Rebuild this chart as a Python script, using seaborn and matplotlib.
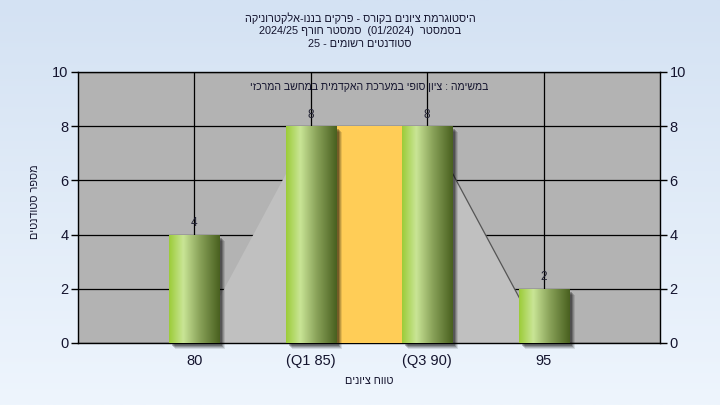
import re
import numpy as np
import pandas as pd
import matplotlib
matplotlib.use("Agg")
import matplotlib.pyplot as plt
import matplotlib.transforms as mtransforms
from matplotlib.colors import LinearSegmentedColormap
from matplotlib.patches import Rectangle
import seaborn as sns

# ---------------- data ----------------
categories = ["80", "(Q1 85)", "(Q3 90)", "95"]
counts = [4, 8, 8, 2]
curve_vals = [0, 8, 8, 0]          # light grey area series behind the bars
iqr_from, iqr_to, iqr_height = 1, 2, 8
y_ticks = [0, 2, 4, 6, 8, 10]
title_lines = [
    "היסטוגרמת ציונים בקורס - פרקים בננו-אלקטרוניקה",
    "בסמסטר  (01/2024)  סמסטר חורף 2024/25",
    "סטודנטים רשומים - 25",
]
subtitle = "במשימה : ציון סופי במערכת האקדמית במחשב המרכזי"
x_title = "טווח ציונים"
y_title = "מספר סטודנטים"


def rtl(s):
    """Simple visual reordering for right-to-left Hebrew text."""
    tokens = re.findall(r"[0-9A-Za-z/.]+|.", s)
    mirror = {"(": ")", ")": "("}
    return "".join(mirror.get(t, t) for t in reversed(tokens))


sns.set_theme(style="white")
plt.rcParams["font.family"] = ["Liberation Sans", "DejaVu Sans"]
txt_color = "#14142e"

fig = plt.figure(figsize=(7.2, 4.05), dpi=100)

# figure background gradient
bg = fig.add_axes([0, 0, 1, 1], zorder=-10)
grad = np.linspace(0, 1, 256).reshape(-1, 1)
bg_cmap = LinearSegmentedColormap.from_list("bg", ["#d4e2f3", "#eef5fd"])
bg.imshow(grad, aspect="auto", cmap=bg_cmap, extent=[0, 1, 0, 1], origin="upper")
bg.set_axis_off()

ax = fig.add_axes([78 / 720, 1 - 343 / 405, 582 / 720, 271 / 405])
ax.set_facecolor("#b3b3b3")

df = pd.DataFrame({"cat": categories, "count": counts})
sns.barplot(data=df, x="cat", y="count", order=categories, width=0.43,
            color="#9acd32", saturation=1, ax=ax, zorder=5, linewidth=0)

xs = np.arange(len(categories))
# grey area series
ax.fill_between(xs, curve_vals, 0, color="#c0c0c0", zorder=2, linewidth=0)
ax.plot(xs[2:], curve_vals[2:], color="#555555", lw=0.9, zorder=2.1)
# inter-quartile band
ax.add_patch(Rectangle((iqr_from, 0), iqr_to - iqr_from, iqr_height,
                       facecolor="#ffcd57", edgecolor="none", zorder=3))

# grid lines (behind the area)
for yv in y_ticks:
    ax.axhline(yv, color="black", lw=0.9, zorder=1)
for xv in xs:
    ax.axvline(xv, color="black", lw=0.9, zorder=1)

# bar gradients + shadows
bar_cmap = LinearSegmentedColormap.from_list(
    "bar", [(0, "#9ccc38"), (0.28, "#c9e596"), (0.6, "#8aa35a"), (1, "#49601f")])
hgrad = np.linspace(0, 1, 256).reshape(1, -1)
bars = [p for p in ax.patches if isinstance(p, Rectangle) and p.get_facecolor()[0] > 0.55
        and p.get_height() > 0][:len(counts)]
for p in bars:
    x0, y0 = p.get_x(), p.get_y()
    w, h = p.get_width(), p.get_height()
    for dx, a in [(6, 0.10), (5, 0.15), (4, 0.2), (3, 0.25)]:
        tr = ax.transData + mtransforms.ScaledTranslation(dx / 100, -dx / 100, fig.dpi_scale_trans)
        ax.add_patch(Rectangle((x0, y0), w, h, transform=tr, facecolor="black",
                               alpha=a, edgecolor="none", zorder=4, clip_on=False))
    im = ax.imshow(hgrad, aspect="auto", cmap=bar_cmap, extent=[x0, x0 + w, y0, y0 + h],
                   zorder=6, interpolation="bilinear")
    im.set_clip_path(p)
    ax.annotate(str(int(h)), (x0 + w / 2, h), xytext=(0, 4), textcoords="offset points",
                ha="center", va="bottom", fontsize=8.5, color="#222233", zorder=7)

ax.set_xlim(-1, 4)
ax.set_ylim(0, 10)
ax.set_yticks(y_ticks)
ax.set_xticks(xs)
ax.set_xticklabels(categories)
ax.tick_params(axis="both", direction="out", length=5, width=1, colors="black",
               labelcolor=txt_color, labelsize=10.5, pad=2)
ax.tick_params(axis="x", pad=3)
for s in ax.spines.values():
    s.set_color("black")
    s.set_linewidth(1.0)
ax.set_xlabel(rtl(x_title), fontsize=7.8, color=txt_color, labelpad=6)
ax.set_ylabel(rtl(y_title), fontsize=7.8, color=txt_color)
ax.yaxis.set_label_coords(-38 / 582, 0.52)

ax2 = ax.twinx()
ax2.set_ylim(0, 10)
ax2.set_yticks(y_ticks)
ax2.tick_params(axis="y", direction="out", length=5, width=1, colors="black",
                labelcolor=txt_color, labelsize=10.5, pad=2)
for s in ax2.spines.values():
    s.set_visible(False)
ax2.grid(False)

ax.text(0.5, 0.945, rtl(subtitle), transform=ax.transAxes, ha="center", va="center",
        fontsize=7.6, color=txt_color, zorder=8)

for i, line in enumerate(title_lines):
    fig.text(0.5, 1 - (18 + 13 * i) / 405, rtl(line), ha="center", va="center",
             fontsize=7.8, color=txt_color)

fig.savefig("out.png", dpi=100)
